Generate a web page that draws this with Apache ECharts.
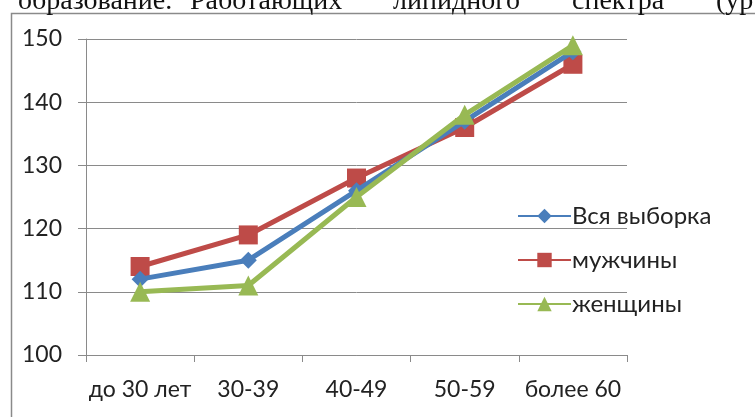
<!DOCTYPE html>
<html>
<head>
<meta charset="utf-8">
<script src="https://cdn.jsdelivr.net/npm/echarts@6/dist/echarts.min.js"></script>
<style>
html,body{margin:0;padding:0;background:#fff;}
#c{width:755px;height:417px;}
</style>
</head>
<body>
<div id="c"></div>
<script>
const categories = ['до 30 лет', '30-39', '40-49', '50-59', 'более 60'];
const seriesNames = ['Вся выборка', 'мужчины', 'женщины'];
const allValues = [112, 115, 126, 137, 148];
const menValues = [114, 119, 128, 136, 146];
const womenValues = [110, 111, 125, 138, 149];
const yTicks = [100, 110, 120, 130, 140, 150];
const headerWords = ['образование.', 'Работающих', 'липидного', 'спектра', '(ур'];

const chart = echarts.init(document.getElementById('c'));
const font = 'Lato, "Open Sans", sans-serif';
const headerX = [18, 190, 393, 572, 716];

const option = {
  backgroundColor: '#fff',
  animation: false,
  grid: { left: 86, right: 128, top: 39, bottom: 62 },
  graphic: [
    { type: 'rect', shape: { x: 11.5, y: 13.5, width: 800, height: 500 }, style: { fill: 'none', stroke: '#8a8a8a', lineWidth: 1.5 }, z: -1 }
  ].concat(headerWords.map((w, i) => ({
    type: 'text', x: headerX[i], y: 16,
    style: { text: w, font: '28px "Liberation Serif", serif', fill: '#111', verticalAlign: 'bottom' }
  }))),
  legend: {
    orient: 'vertical',
    left: 512, top: 199,
    itemWidth: 53, itemHeight: 18,
    itemGap: 20,
    textStyle: { fontFamily: font, fontSize: 24, color: '#222', padding: [0, 0, 0, -4] },
    data: seriesNames
  },
  xAxis: {
    type: 'category',
    data: categories,
    boundaryGap: true,
    axisLine: { lineStyle: { color: '#8a8a8a', width: 1 } },
    axisTick: { show: true, length: 7, lineStyle: { color: '#8a8a8a' } },
    axisLabel: { fontFamily: font, fontSize: 23, color: '#222', margin: 23, interval: 0 },
    splitLine: { show: false }
  },
  yAxis: {
    type: 'value',
    min: yTicks[0], max: yTicks[yTicks.length - 1], interval: 10,
    axisLine: { show: true, lineStyle: { color: '#8a8a8a', width: 1 } },
    axisTick: { show: true, length: 8, lineStyle: { color: '#8a8a8a' } },
    axisLabel: { fontFamily: font, fontSize: 23, color: '#222', margin: 24 },
    splitLine: { lineStyle: { color: '#8a8a8a', width: 1 } }
  },
  series: [
    { name: seriesNames[0], type: 'line', data: allValues, symbol: 'diamond', symbolSize: 17,
      itemStyle: { color: '#4a7ebb' }, lineStyle: { width: 5, color: '#4a7ebb' }, z: 3 },
    { name: seriesNames[1], type: 'line', data: menValues, symbol: 'rect', symbolSize: 19,
      itemStyle: { color: '#be4b48' }, lineStyle: { width: 5, color: '#be4b48' }, z: 2 },
    { name: seriesNames[2], type: 'line', data: womenValues, symbol: 'triangle', symbolSize: 20,
      itemStyle: { color: '#98b954' }, lineStyle: { width: 5, color: '#98b954' }, z: 4 }
  ]
};
chart.setOption(option);
</script>
</body>
</html>
